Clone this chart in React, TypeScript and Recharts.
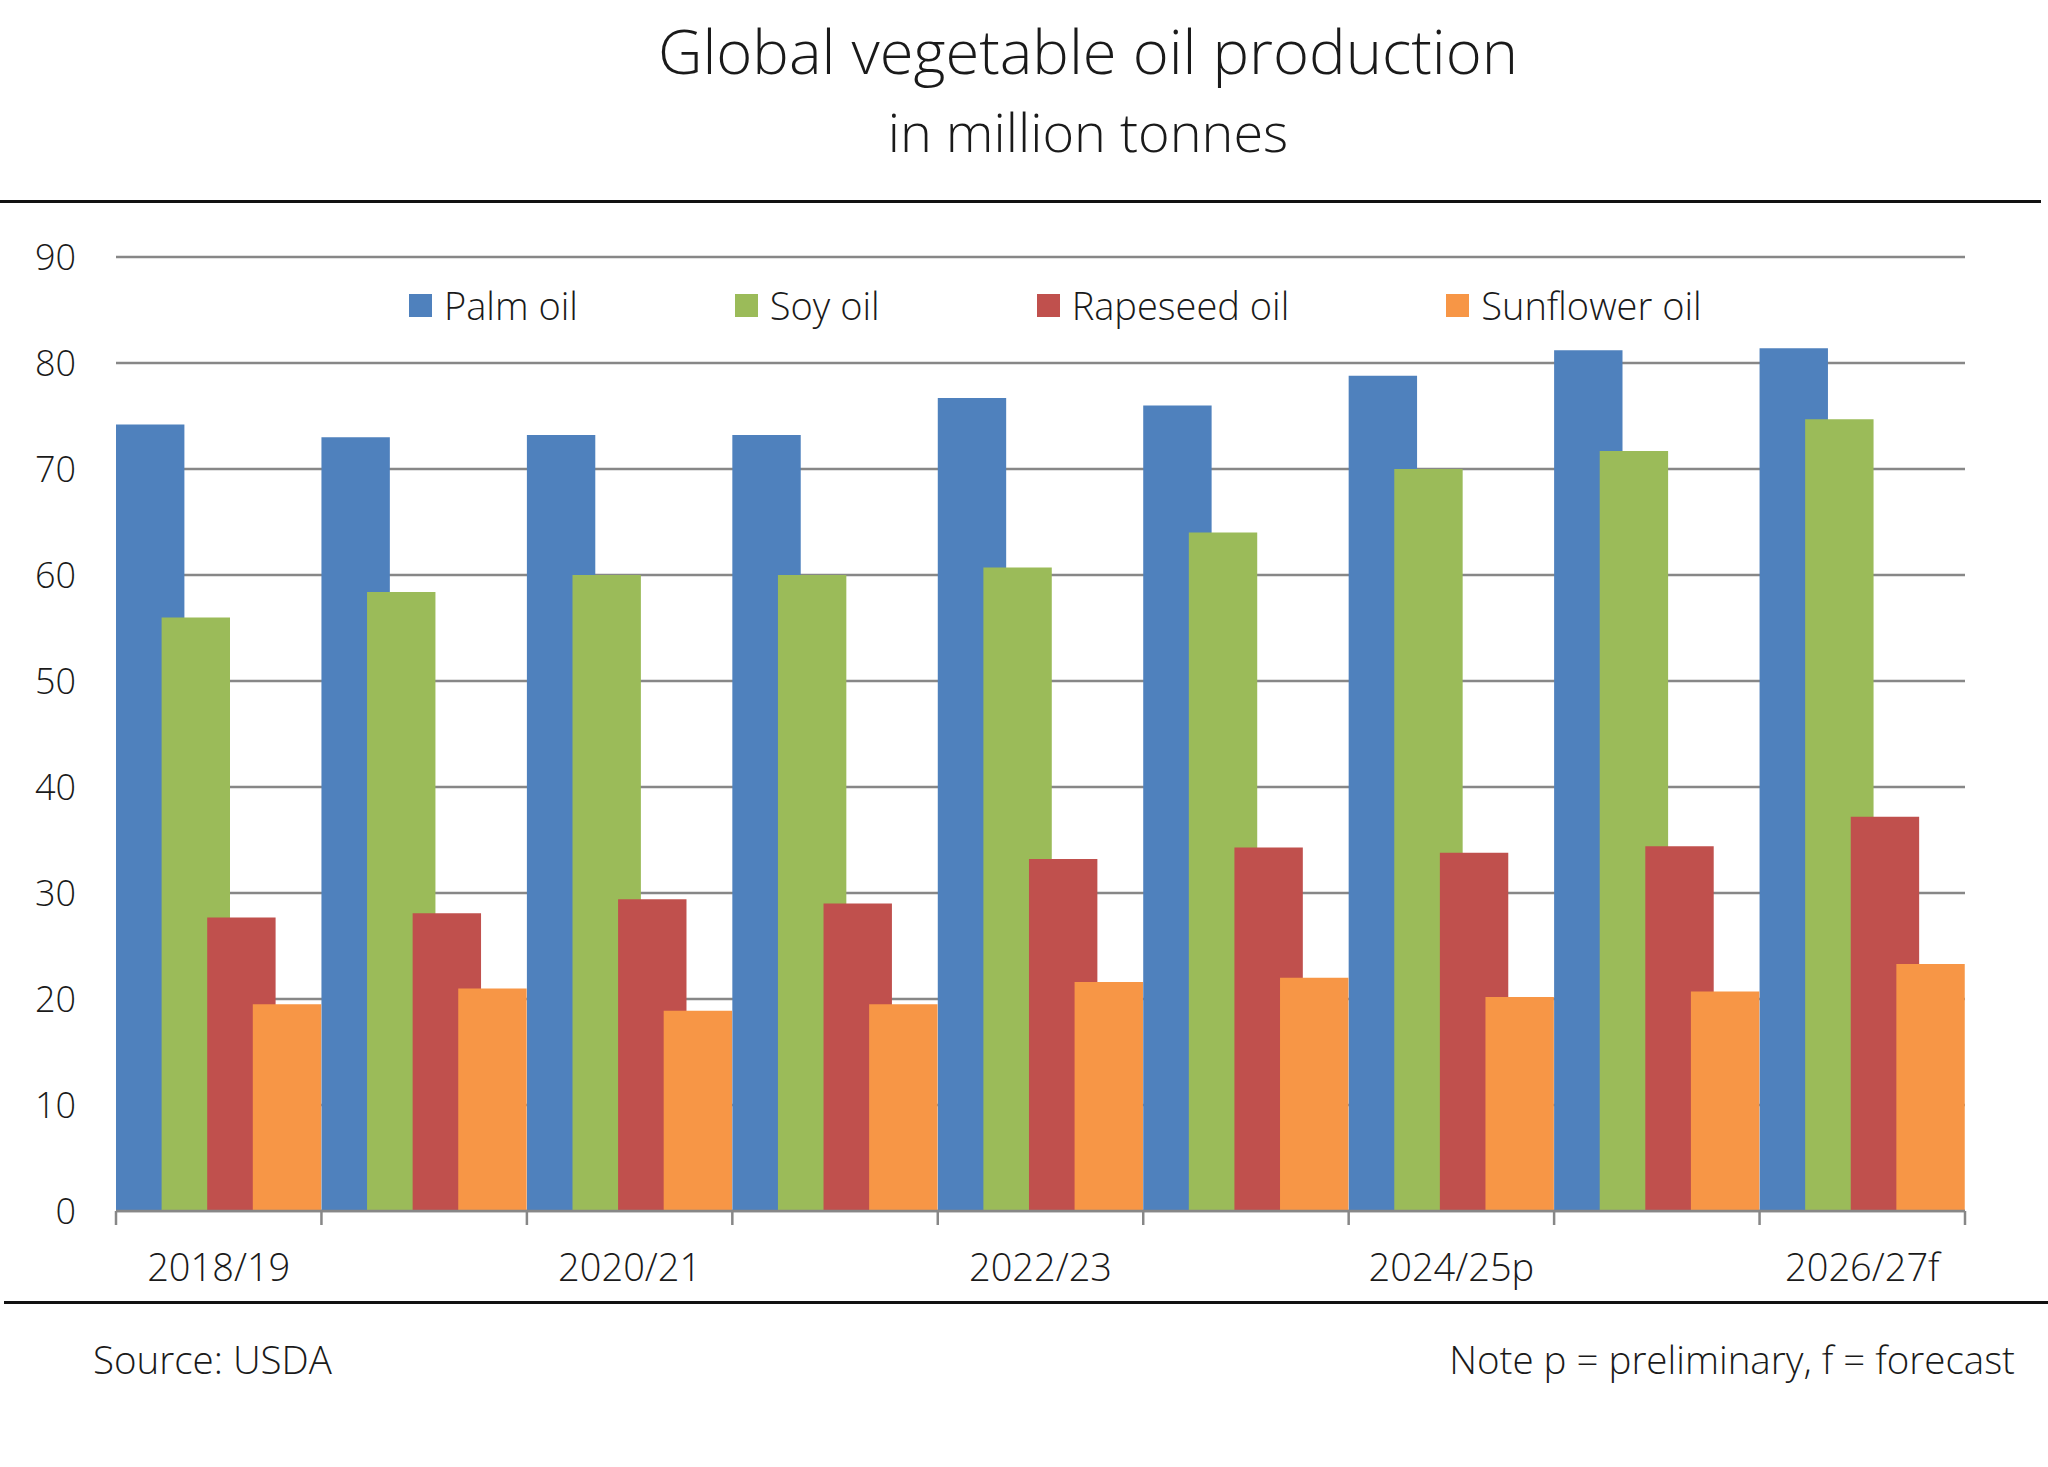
import React from "react";
import {
  BarChart,
  Bar,
  XAxis,
  YAxis,
  CartesianGrid,
  Legend,
} from "recharts";

// Global vegetable oil production, million tonnes (USDA)
const seasons = [
  "2018/19",
  "2019/20",
  "2020/21",
  "2021/22",
  "2022/23",
  "2023/24",
  "2024/25p",
  "2025/26",
  "2026/27f",
];
const palmOil = [74.2, 73.0, 73.2, 73.2, 76.7, 76.0, 78.8, 81.2, 81.4];
const soyOil = [56.0, 58.4, 60.0, 60.0, 60.7, 64.0, 70.0, 71.7, 74.7];
const rapeseedOil = [27.7, 28.1, 29.4, 29.0, 33.2, 34.3, 33.8, 34.4, 37.2];
const sunflowerOil = [19.5, 21.0, 18.9, 19.5, 21.6, 22.0, 20.2, 20.7, 23.3];

const seriesNames = ["Palm oil", "Soy oil", "Rapeseed oil", "Sunflower oil"];
const yTicks = [0, 10, 20, 30, 40, 50, 60, 70, 80, 90];

const data = seasons.map((season, i) => ({
  season,
  palm: palmOil[i],
  soy: soyOil[i],
  rapeseed: rapeseedOil[i],
  sunflower: sunflowerOil[i],
}));

const FONT = "'Open Sans', 'Noto Sans', sans-serif";
const INK = "#1a1a1a";
const GRID = "#878787";

function LegendContent({ payload }: { payload?: { value: string; color: string }[] }) {
  if (!payload) return null;
  const items = [...payload].sort(
    (a, b) => seriesNames.indexOf(a.value) - seriesNames.indexOf(b.value)
  );
  return (
    <div style={{ display: "flex", gap: 157, fontFamily: FONT, fontWeight: 300, fontSize: 38, color: INK, whiteSpace: "nowrap" }}>
      {items.map((p) => (
        <div key={p.value} style={{ display: "flex", alignItems: "center" }}>
          <span style={{ width: 23, height: 23, background: p.color, marginRight: 12, display: "inline-block" }} />
          <span style={{ lineHeight: "40px" }}>{p.value}</span>
        </div>
      ))}
    </div>
  );
}

// category tick: boundary marks on both sides of the band, label on every other season
function SeasonTick(props: any) {
  const { x, y, payload, index } = props;
  const half = payload?.offset ?? 102.7;
  const last = index === seasons.length - 1;
  return (
    <g>
      <line x1={x - half} x2={x - half} y1={y} y2={y + 14} stroke={GRID} strokeWidth={2.5} />
      {last && <line x1={x + half} x2={x + half} y1={y} y2={y + 14} stroke={GRID} strokeWidth={2.5} />}
      {index % 2 === 0 && (
        <text
          x={x}
          y={y + 43}
          dy="0.71em"
          textAnchor="middle"
          fill={INK}
          fontSize={38}
          fontFamily={FONT}
          fontWeight={300}
        >
          {payload.value}
        </text>
      )}
    </g>
  );
}

export default function App() {
  return (
    <div
      style={{
        position: "absolute",
        left: 0,
        top: 0,
        width: 2048,
        height: 1467,
        background: "#fff",
        fontFamily: FONT,
        color: INK,
        overflow: "hidden",
      }}
    >
      {/* Title block */}
      <div style={{ position: "absolute", left: 1088, top: 20, transform: "translateX(-50%)", fontSize: 61.5, lineHeight: "61px", fontWeight: 300, whiteSpace: "nowrap" }}>
        Global vegetable oil production
      </div>
      <div style={{ position: "absolute", left: 1088, top: 104, transform: "translateX(-50%)", fontSize: 54, lineHeight: "54px", fontWeight: 300, whiteSpace: "nowrap" }}>
        in million tonnes
      </div>
      <div style={{ position: "absolute", left: 0, top: 200, width: 2041, height: 3, background: "#111" }} />

      <div style={{ position: "absolute", left: 0, top: 0 }}>
        <BarChart
          width={2048}
          height={1467}
          data={data}
          margin={{ top: 257, right: 83, left: 0, bottom: 196 }}
          barSize={68.4}
          barGap={-22.8}
          barCategoryGap={0}
        >
          <CartesianGrid vertical={false} stroke={GRID} strokeWidth={2.5} />
          <XAxis
            dataKey="season"
            height={60}
            interval={0}
            axisLine={{ stroke: GRID, strokeWidth: 2.5 }}
            tickLine={false}
            tickSize={0}
            tickMargin={0}
            tick={<SeasonTick />}
          />
          <YAxis
            domain={[0, 90]}
            ticks={yTicks}
            width={116}
            axisLine={false}
            tickLine={false}
            tickSize={0}
            tickMargin={40}
            tick={{ fill: INK, fontSize: 36, fontFamily: FONT, fontWeight: 300 }}
          />
          <Legend
            layout="vertical"
            align="center"
            verticalAlign="middle"
            content={<LegendContent />}
            wrapperStyle={{ top: 285, left: 409, width: "auto" }}
          />
          <Bar dataKey="palm" name={seriesNames[0]} fill="#4F81BD" isAnimationActive={false} />
          <Bar dataKey="soy" name={seriesNames[1]} fill="#9BBB59" isAnimationActive={false} />
          <Bar dataKey="rapeseed" name={seriesNames[2]} fill="#C0504D" isAnimationActive={false} />
          <Bar dataKey="sunflower" name={seriesNames[3]} fill="#F79646" isAnimationActive={false} />
        </BarChart>
      </div>

      <div style={{ position: "absolute", left: 4, top: 1301, width: 2044, height: 3, background: "#111" }} />
      <div style={{ position: "absolute", left: 93, top: 1340, fontSize: 38.5, lineHeight: "38px", fontWeight: 300, whiteSpace: "nowrap" }}>
        Source: USDA
      </div>
      <div style={{ position: "absolute", right: 33, top: 1340, fontSize: 38.5, lineHeight: "38px", fontWeight: 300, whiteSpace: "nowrap" }}>
        Note p = preliminary, f = forecast
      </div>
    </div>
  );
}
